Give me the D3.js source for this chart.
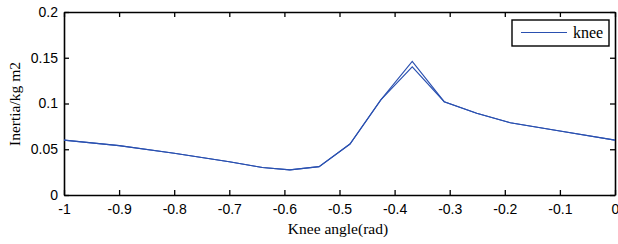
<!DOCTYPE html>
<html>
<head>
<meta charset="utf-8">
<script src="https://d3js.org/d3.v7.min.js"></script>
<style>
  body { margin: 0; background: #fff; }
  .tick text { font-family: "Liberation Sans", Arial, sans-serif; font-size: 14px; fill: #000; }
  .lbl { font-family: "Liberation Serif", "Times New Roman", serif; font-size: 15.5px; fill: #000; }
</style>
</head>
<body>
<div id="chart"></div>
<script>
"use strict";
(function () {
  // angle samples (rad) and inertia values for the two knee curves
  const angles = [-1, -0.9, -0.8, -0.7, -0.64, -0.59, -0.537, -0.481, -0.425, -0.368, -0.31, -0.251, -0.19, -0.1, 0];
  const kneeA = [0.060, 0.054, 0.0456, 0.0364, 0.030, 0.0275, 0.031, 0.0557, 0.104, 0.146, 0.102, 0.0893, 0.079, 0.070, 0.060];
  const kneeB = [0.060, 0.054, 0.0456, 0.0364, 0.030, 0.0275, 0.031, 0.0557, 0.104, 0.140, 0.102, 0.0893, 0.079, 0.070, 0.060];
  const xTicks = [-1, -0.9, -0.8, -0.7, -0.6, -0.5, -0.4, -0.3, -0.2, -0.1, 0];
  const yTicks = [0, 0.05, 0.1, 0.15, 0.2];
  const seriesNames = ["knee"];

  const W = 618, H = 244;
  const M = { left: 64, right: 3, top: 12, bottom: 49 };
  const LINE = "#2a50b0";

  const svg = d3.select("#chart").append("svg").attr("width", W).attr("height", H);
  const x = d3.scaleLinear().domain([-1, 0]).range([M.left, W - M.right]);
  const y = d3.scaleLinear().domain([0, 0.2]).range([H - M.bottom, M.top]);
  const fmt = (d) => d === 0 ? "0" : String(d);

  // axes: ticks pointing inward, mirrored on top/right
  const axB = svg.append("g").attr("transform", `translate(0,${H - M.bottom})`)
    .call(d3.axisBottom(x).tickValues(xTicks).tickFormat(fmt).tickSizeInner(-5).tickSizeOuter(0).tickPadding(9));
  const axT = svg.append("g").attr("transform", `translate(0,${M.top})`)
    .call(d3.axisTop(x).tickValues(xTicks).tickFormat("").tickSizeInner(-5).tickSizeOuter(0));
  const axL = svg.append("g").attr("transform", `translate(${M.left},0)`)
    .call(d3.axisLeft(y).tickValues(yTicks).tickFormat(fmt).tickSizeInner(-5).tickSizeOuter(0).tickPadding(6));
  const axR = svg.append("g").attr("transform", `translate(${W - M.right},0)`)
    .call(d3.axisRight(y).tickValues(yTicks).tickFormat("").tickSizeInner(-5).tickSizeOuter(0));
  [axB, axT, axL, axR].forEach((g) => {
    g.selectAll("path").attr("stroke", "#000").attr("stroke-width", 1.6);
    g.selectAll("line").attr("stroke", "#000").attr("stroke-width", 1.3);
  });

  // curves
  const line = d3.line().x((d) => x(d[0])).y((d) => y(d[1]));
  [kneeA, kneeB].forEach((vals) => {
    svg.append("path")
      .datum(angles.map((a, i) => [a, vals[i]]))
      .attr("d", line)
      .attr("fill", "none").attr("stroke", LINE).attr("stroke-width", 1.1);
  });

  // labels
  svg.append("text").attr("class", "lbl").attr("text-anchor", "middle")
    .attr("x", 338).attr("y", 234).text("Knee angle(rad)");
  svg.append("text").attr("class", "lbl").attr("text-anchor", "middle")
    .attr("transform", `translate(19.5,104) rotate(-90)`).text("Inertia/kg m2");

  // legend
  const lg = svg.append("g").attr("transform", "translate(512,20)");
  lg.append("rect").attr("width", 97).attr("height", 26).attr("fill", "#fff").attr("stroke", "#000").attr("stroke-width", 1.4);
  lg.append("line").attr("x1", 9).attr("x2", 55).attr("y1", 12.5).attr("y2", 12.5).attr("stroke", LINE).attr("stroke-width", 1.1);
  lg.append("text").attr("class", "lbl").style("font-size", "16px").attr("x", 61).attr("y", 18).text(seriesNames[0]);
})();
</script>
</body>
</html>
